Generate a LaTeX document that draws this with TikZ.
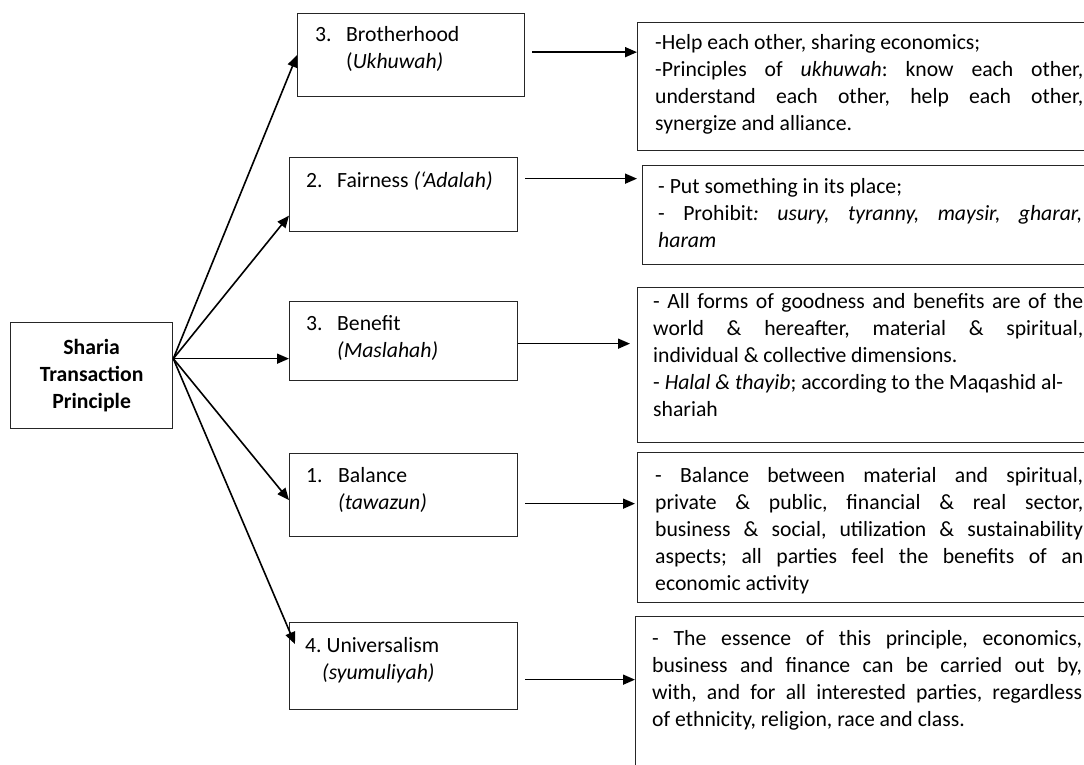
\documentclass[tikz,border=0pt]{standalone}
\usepackage{fontspec}
\setmainfont{Carlito}
\usetikzlibrary{arrows.meta}
\frenchspacing
\newcommand\bodyfont{\fontsize{21.7pt}{27pt}\selectfont}
\newcommand\jl[2]{\makebox[#1][s]{#2}}
\tikzset{
	box/.style={draw=black!85, line width=1.3pt, inner sep=0pt, anchor=north west},
	txt/.style={inner sep=0pt, anchor=base west, align=left, font=\bodyfont},
	arr/.style={-{Triangle[length=12pt,width=10pt]}, line width=1.6pt}
}
\begin{document}
\begin{tikzpicture}[x=1pt,y=-1pt]
	\useasboundingbox (0,0) rectangle (1084,765);
	
	% main principle
	\node[box, minimum width=162pt, minimum height=106pt] (sharia) at (10,322) {};
	\node[font=\bodyfont\bfseries, align=center, inner sep=0pt] (sharia-t) at (sharia.center) {Sharia\\Transaction\\Principle};
	
	% the five principles
	\node[box, minimum width=227pt, minimum height=83pt] (brot) at (297,13) {};
	\node[box, minimum width=228pt, minimum height=74pt] (fair) at (289,157) {};
	\node[box, minimum width=228pt, minimum height=79pt] (bene) at (289,301) {};
	\node[box, minimum width=228pt, minimum height=83pt] (bal) at (289,453) {};
	\node[box, minimum width=228pt, minimum height=87pt] (univ) at (289,622) {};
	
	% (base of a text = its last line)
	\node[txt] (brot-t) at ([shift={(18,56)}]brot.north west) {\makebox[31pt][l]{3.}Brotherhood\\\hspace*{31pt}(\textit{Ukhuwah)}};
	\node[txt] (fair-t) at ([shift={(17,30)}]fair.north west) {\makebox[31pt][l]{2.}Fairness \textit{(‘Adalah)}};
	\node[txt] (bene-t) at ([shift={(17,56)}]bene.north west) {\makebox[31pt][l]{3.}Benefit\\\hspace*{31pt}\textit{(Maslahah)}};
	\node[txt] (bal-t) at ([shift={(17,56)}]bal.north west) {\makebox[32pt][l]{1.}Balance\\\hspace*{32pt}\textit{(tawazun)}};
	\node[txt] (univ-t) at ([shift={(16,57)}]univ.north west) {4. Universalism\\\hspace*{17pt}\textit{(syumuliyah)}};
	
	% descriptions
	\node[box, minimum width=463pt, minimum height=128pt] (brotD) at (637,22) {};
	\node[box, minimum width=458pt, minimum height=99pt] (fairD) at (642,165) {};
	\node[box, minimum width=463pt, minimum height=155pt] (beneD) at (637,287) {};
	\node[box, minimum width=463pt, minimum height=150pt] (balD) at (637,452) {};
	\node[box, minimum width=465pt, minimum height=174pt] (univD) at (635,616) {};
	
	\node[txt] (brotD-t) at ([shift={(18,109)}]brotD.north west) {-Help each other, sharing economics;\\
		\jl{428pt}{-Principles of \textit{ukhuwah}: know each other,}\\
		\jl{428pt}{understand each other, help each other,}\\
		synergize and alliance.};
	\node[txt] (fairD-t) at ([shift={(16,82)}]fairD.north west) {- Put something in its place;\\
		\jl{424pt}{- Prohibit\textit{: usury, tyranny, maysir, gharar,}}\\
		\textit{haram}};
	\node[txt] (beneD-t) at ([shift={(16,129)}]beneD.north west) {\jl{430pt}{- All forms of goodness and benefits are of the}\\
		\jl{430pt}{world \& hereafter, material \& spiritual,}\\
		individual \& collective dimensions.\\
		- \textit{Halal \& thayib}; according to the Maqashid al-\\
		shariah};
	\node[txt] (balD-t) at ([shift={(18,138)}]balD.north west) {\jl{428pt}{- Balance between material and spiritual,}\\
		\jl{428pt}{private \& public, financial \& real sector,}\\
		\jl{428pt}{business \& social, utilization \& sustainability}\\
		\jl{428pt}{aspects; all parties feel the benefits of an}\\
		economic activity};
	\node[txt] (univD-t) at ([shift={(17,110)}]univD.north west) {\jl{430pt}{- The essence of this principle, economics,}\\
		\jl{430pt}{business and finance can be carried out by,}\\
		\jl{430pt}{with, and for all interested parties, regardless}\\
		of ethnicity, religion, race and class.};
	
	% fan of arrows
	\coordinate (hub) at ([shift={(0,-17)}]sharia.east);
	\draw[arr] (hub) -- (brot.west);
	\draw[arr] (hub) -- ([shift={(0,21)}]fair.west);
	\draw[arr] (hub) -- (hub -| bene.west);
	\draw[arr] (hub) -- ([shift={(0,5)}]bal.west);
	\draw[arr] (hub) -- ([shift={(6,-22)}]univ.west);
	
	% to the descriptions
	\coordinate (brot-o) at ([shift={(7,-3)}]brot.east);
	\coordinate (fair-o) at ([shift={(7,-16)}]fair.east);
	\coordinate (bene-o) at ([shift={(0,2.5)}]bene.east);
	\coordinate (bal-o) at ([shift={(7,8.5)}]bal.east);
	\coordinate (univ-o) at ([shift={(7,13.5)}]univ.east);
	\draw[arr] (brot-o) -- (brot-o -| brotD.west);
	\draw[arr, shorten >=5pt] (fair-o) -- (fair-o -| fairD.west);
	\draw[arr, shorten >=7pt] (bene-o) -- (bene-o -| beneD.west);
	\draw[arr, shorten >=2pt] (bal-o) -- (bal-o -| balD.west);
	\draw[arr] (univ-o) -- (univ-o -| univD.west);
\end{tikzpicture}
\end{document}
